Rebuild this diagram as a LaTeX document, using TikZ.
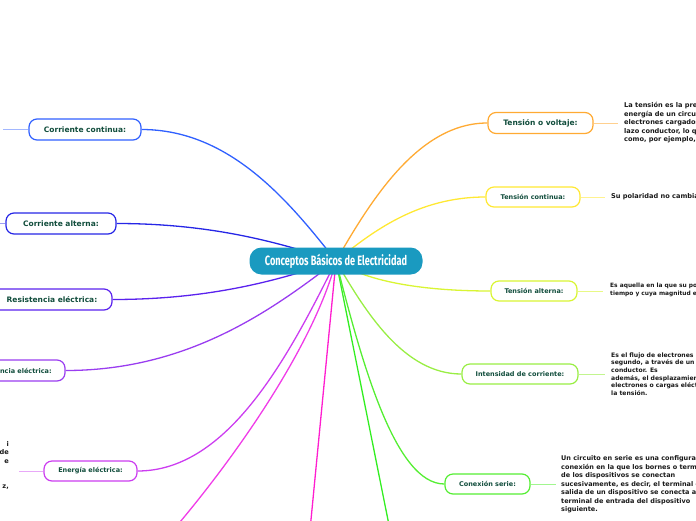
\documentclass[tikz,border=0pt]{standalone}
\usepackage{fontspec}
\setmainfont{DejaVu Sans}
\newfontfamily\titlefont{Fira Sans}
\usetikzlibrary{calc}
\pgfdeclarelayer{bg}
\pgfsetlayers{bg,main}
\definecolor{tgreen}{HTML}{114D3C}
\definecolor{hubfill}{HTML}{1A9AC0}
\definecolor{cCC}{HTML}{3060FF}
\definecolor{cCA}{HTML}{2626E6}
\definecolor{cRE}{HTML}{5A22EE}
\definecolor{cPO}{HTML}{9A3DF0}
\definecolor{cEN}{HTML}{CC3DF0}
\definecolor{cM1}{HTML}{F03CE8}
\definecolor{cM2}{HTML}{FF1ECF}
\definecolor{cG1}{HTML}{33EE22}
\definecolor{cTV}{HTML}{FFAA33}
\definecolor{cTC}{HTML}{FFE833}
\definecolor{cTA}{HTML}{D9F533}
\definecolor{cIN}{HTML}{99EE44}
\definecolor{cCS}{HTML}{55EE33}
\begin{document}
\begin{tikzpicture}[x=1pt,y=-1pt,
  box/.style={draw, fill=white, rounded corners=8pt, line width=1.2pt, inner sep=0pt,
    text=tgreen, align=center},
  bigtxt/.style={font=\bfseries\fontsize{7.5}{9}\selectfont},
  smalltxt/.style={font=\bfseries\fontsize{6.5}{8}\selectfont},
  desc/.style={anchor=west, align=left, inner sep=0pt, text=black!90,
    font=\bfseries\fontsize{6.6}{8.5}\selectfont},
  conn/.style={line width=1.3pt},
  leaf/.style={line width=1pt},
]
\useasboundingbox (0,0) rectangle (696,520);
\clip (0,0) rectangle (696,520);

% central node
\node[fill=hubfill, rounded corners=12pt, minimum width=173pt, minimum height=27pt, inner sep=0pt,
  text=white] (c) at (336,261)
  {\titlefont\bfseries\fontsize{13.5}{15}\selectfont\scalebox{0.68}[1]{Conceptos Básicos de Electricidad}};

% left nodes
\node[box, bigtxt, draw=cCC, minimum width=112pt, minimum height=21pt] (cc) at (85,129.5) {Corriente continua:};
\node[box, bigtxt, draw=cCA, minimum width=110pt, minimum height=21pt] (ca) at (61,223.5) {Corriente alterna:};
\node[box, bigtxt, draw=cRE, minimum width=120pt, minimum height=21pt] (re) at (52,299.5) {Resistencia eléctrica:};
\node[box, smalltxt, draw=cPO, minimum width=95pt, minimum height=21pt] (po) at (17.5,370.5) {Potencia eléctrica:};
\node[box, smalltxt, draw=cEN, minimum width=93pt, minimum height=20pt] (en) at (90.5,471) {Energía eléctrica:};

% right nodes
\node[box, bigtxt, draw=cTV, minimum width=105pt, minimum height=21pt] (tv) at (540.5,123) {Tensión o voltaje:};
\node[box, smalltxt, draw=cTC, minimum width=94pt, minimum height=20pt] (tc) at (533,197) {Tensión continua:};
\node[box, smalltxt, draw=cTA, minimum width=86pt, minimum height=20pt] (ta) at (534,291) {Tensión alterna:};
\node[box, smalltxt, draw=cIN, minimum width=116pt, minimum height=20pt] (in) at (520,374) {Intensidad de corriente:};
\node[box, smalltxt, draw=cCS, minimum width=85pt, minimum height=20pt] (cs) at (487.5,484) {Conexión serie:};

% descriptions
\node[desc] (dtv) at (624,123) {La tensión es la presión que una fuente de suministro de\\energía de un circuito eléctrico ejerce sobre los\\electrones cargados dentro de un circuito cerrado o\\lazo conductor, lo que hace que fluyan y realicen trabajo,\\como, por ejemplo, encender una luz.};
\node[desc] (dtc) at (611,197) {Su polaridad no cambia con el tiempo.};
\node[desc, font=\bfseries\fontsize{5.9}{7.5}\selectfont] (dta) at (610,290) {Es aquella en la que su polaridad cambia con el\\tiempo y cuya magnitud es variable.};
\node[desc, font=\bfseries\fontsize{6.1}{7.7}\selectfont] (din) at (611,374) {Es el flujo de electrones por\\segundo, a través de un\\conductor. Es\\además, el desplazamiento de\\electrones o cargas eléctricas debido a\\la tensión.};
\node[desc, font=\bfseries\fontsize{6.5}{8.5}\selectfont] (dcs) at (561,484.5) {Un circuito en serie es una configuración de\\conexión en la que los bornes o terminales\\de los dispositivos se conectan\\sucesivamente, es decir, el terminal de\\salida de un dispositivo se conecta a la\\terminal de entrada del dispositivo\\siguiente.};
\node[desc, anchor=north east, align=right] (den) at (9,441) {i\\de\\e\\[17pt]z,};

% leaf coordinates
\coordinate (lcc) at (3,129.5);
\coordinate (lca) at (-2,223.5);
\coordinate (len) at (19,471);
\coordinate (ltv) at (618,123);
\coordinate (ltc) at (605,197);
\coordinate (lta) at (603,291);
\coordinate (lin) at (605,374);
\coordinate (lcs) at (556,484);
\coordinate (m1) at (175,528);
\coordinate (m2) at (310,530);
\coordinate (g1) at (390,530);

\begin{pgfonlayer}{bg}
\draw[conn, cCC] (cc.east) .. controls +(88,0) and +(-47,-60) .. (c.center);
\draw[conn, cCA] (ca.east) .. controls +(99,0) and +(-53,-17) .. (c.center);
\draw[conn, cRE] (re.east) .. controls +(101,0) and +(-54,18) .. (c.center);
\draw[conn, cPO] (po.east) .. controls +(122,0) and +(-65,50) .. (c.center);
\draw[conn, cEN] (en.east) .. controls +(90,0) and +(-48,97) .. (c.center);
\draw[conn, cM1] (c.center) .. controls (315,340) and (245,445) .. (m1);
\draw[conn, cM2] (c.center) -- (m2);
\draw[conn, cG1] (c.center) -- (g1);
\draw[conn, cTV] (tv.west) .. controls +(-68,0) and +(36,-63) .. (c.center);
\draw[conn, cTC] (tc.west) .. controls +(-68,0) and +(36,-29) .. (c.center);
\draw[conn, cTA] (ta.west) .. controls +(-62,0) and +(32,22) .. (c.center);
\draw[conn, cIN] (in.west) .. controls +(-57,0) and +(30,52) .. (c.center);
\draw[conn, cCS] (cs.west) .. controls +(-49,0) and +(26,103) .. (c.center);
% leaf connectors
\draw[leaf, cCC!45] (cc.west) -- (lcc);
\draw[leaf, cCA!45] (ca.west) -- (lca);
\draw[leaf, cEN!45] (en.west) -- (len);
\draw[leaf, cTV!55] (tv.east) -- (ltv);
\draw[leaf, cTC!55] (tc.east) -- (ltc);
\draw[leaf, cTA!60] (ta.east) -- (lta);
\draw[leaf, cIN!60] (in.east) -- (lin);
\draw[leaf, cCS!55] (cs.east) -- (lcs);
\end{pgfonlayer}
\end{tikzpicture}
\end{document}
